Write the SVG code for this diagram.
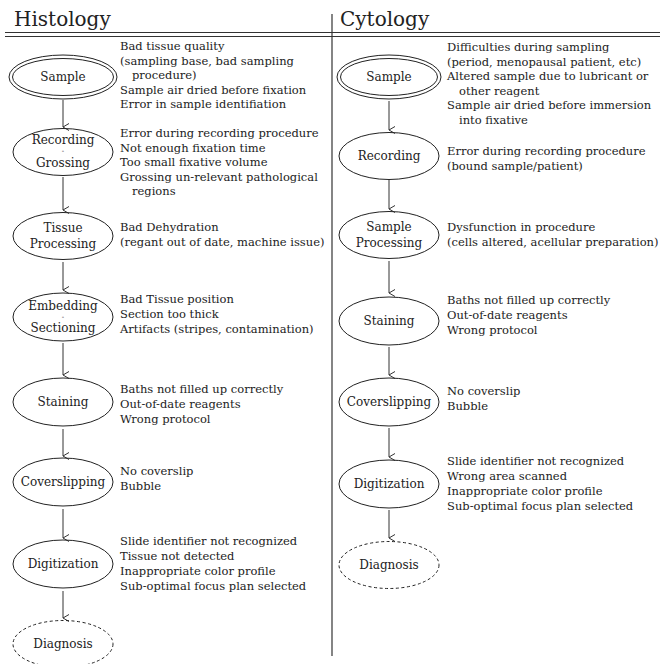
<svg xmlns="http://www.w3.org/2000/svg" width="669" height="664" viewBox="0 0 669 664">
<defs>
<style>
.t{font-family:"DejaVu Serif","Liberation Serif",serif;font-size:11.5px;fill:#222}
.n{font-family:"DejaVu Serif","Liberation Serif",serif;font-size:12px;fill:#222;text-anchor:middle}
.h{font-family:"DejaVu Serif","Liberation Serif",serif;font-size:20px;fill:#222}
.s{font-family:"DejaVu Serif","Liberation Serif",serif;font-size:7px;fill:#222;text-anchor:middle}
.e{fill:none;stroke:#222;stroke-width:1}
.d{fill:none;stroke:#222;stroke-width:1;stroke-dasharray:3,2.5}
.a{stroke:#333;stroke-width:1;fill:none}
.rule{stroke:#333;stroke-width:1.2}
</style>
<marker id="arr" markerWidth="10" markerHeight="10" refX="4" refY="8" orient="auto-start-reverse" markerUnits="userSpaceOnUse" viewBox="0 0 8 10">
<path d="M0.5,2 L4,8 L7.5,2" fill="none" stroke="#333" stroke-width="1"/>
</marker>
</defs>
<rect width="669" height="664" fill="#fff"/>
<g id="frame">
<text class="h" x="14" y="26">Histology</text>
<text class="h" x="340" y="26">Cytology</text>
<line class="rule" x1="5" y1="32.5" x2="660" y2="32.5"/>
<line class="rule" x1="5" y1="36.5" x2="660" y2="36.5"/>
<line class="rule" x1="332" y1="14" x2="332" y2="656"/>
</g>
<g id="connectors">
<line class="a" x1="63" y1="100" x2="63" y2="127" marker-end="url(#arr)"/>
<line class="a" x1="63" y1="177" x2="63" y2="210" marker-end="url(#arr)"/>
<line class="a" x1="63" y1="262" x2="63" y2="290" marker-end="url(#arr)"/>
<line class="a" x1="63" y1="343" x2="63" y2="375" marker-end="url(#arr)"/>
<line class="a" x1="63" y1="429" x2="63" y2="456" marker-end="url(#arr)"/>
<line class="a" x1="63" y1="509" x2="63" y2="538" marker-end="url(#arr)"/>
<line class="a" x1="63" y1="591" x2="63" y2="618" marker-end="url(#arr)"/>
<line class="a" x1="389" y1="101" x2="389" y2="130" marker-end="url(#arr)"/>
<line class="a" x1="389" y1="180" x2="389" y2="209" marker-end="url(#arr)"/>
<line class="a" x1="389" y1="261" x2="389" y2="293" marker-end="url(#arr)"/>
<line class="a" x1="389" y1="347" x2="389" y2="375" marker-end="url(#arr)"/>
<line class="a" x1="389" y1="428" x2="389" y2="457" marker-end="url(#arr)"/>
<line class="a" x1="389" y1="510" x2="389" y2="538" marker-end="url(#arr)"/>
</g>
<g id="h-sample">
<ellipse class="e" cx="63" cy="77" rx="54" ry="22"/>
<ellipse class="e" cx="63" cy="77" rx="50.5" ry="18.5"/>
<text class="n" x="63" y="81">Sample</text>
<text class="t"><tspan x="120" y="50">Bad tissue quality</tspan><tspan x="120" y="64.5">(sampling base, bad sampling</tspan><tspan x="132" y="79">procedure)</tspan><tspan x="120" y="93.5">Sample air dried before fixation</tspan><tspan x="120" y="108">Error in sample identifiation</tspan></text>
</g>
<g id="h-recording">
<ellipse class="e" cx="63" cy="152" rx="50" ry="23.5"/>
<text class="n" x="63" y="144">Recording</text>
<text class="s" x="63" y="153">-</text>
<text class="n" x="63" y="166.5">Grossing</text>
<text class="t"><tspan x="120" y="137">Error during recording procedure</tspan><tspan x="120" y="151.5">Not enough fixation time</tspan><tspan x="120" y="166">Too small fixative volume</tspan><tspan x="120" y="180.5">Grossing un-relevant pathological</tspan><tspan x="132" y="195">regions</tspan></text>
</g>
<g id="h-tissue">
<ellipse class="e" cx="63" cy="236" rx="50" ry="23.5"/>
<text class="n"><tspan x="63" y="232">Tissue</tspan><tspan x="63" y="248">Processing</tspan></text>
<text class="t"><tspan x="120" y="231">Bad Dehydration</tspan><tspan x="120" y="246">(regant out of date, machine issue)</tspan></text>
</g>
<g id="h-embedding">
<ellipse class="e" cx="63" cy="317" rx="50" ry="24"/>
<text class="n" x="63" y="309.5">Embedding</text>
<text class="s" x="63" y="318.5">-</text>
<text class="n" x="63" y="332">Sectioning</text>
<text class="t"><tspan x="120" y="303">Bad Tissue position</tspan><tspan x="120" y="318">Section too thick</tspan><tspan x="120" y="333">Artifacts (stripes, contamination)</tspan></text>
</g>
<g id="h-staining">
<ellipse class="e" cx="63" cy="402" rx="50" ry="24"/>
<text class="n" x="63" y="406">Staining</text>
<text class="t"><tspan x="120" y="393">Baths not filled up correctly</tspan><tspan x="120" y="408">Out-of-date reagents</tspan><tspan x="120" y="423">Wrong protocol</tspan></text>
</g>
<g id="h-coverslipping">
<ellipse class="e" cx="63" cy="482" rx="50" ry="24"/>
<text class="n" x="63" y="486">Coverslipping</text>
<text class="t"><tspan x="120" y="475">No coverslip</tspan><tspan x="120" y="490">Bubble</tspan></text>
</g>
<g id="h-digitization">
<ellipse class="e" cx="63" cy="564" rx="50" ry="24"/>
<text class="n" x="63" y="568">Digitization</text>
<text class="t"><tspan x="120" y="545">Slide identifier not recognized</tspan><tspan x="120" y="560">Tissue not detected</tspan><tspan x="120" y="575">Inappropriate color profile</tspan><tspan x="120" y="590">Sub-optimal focus plan selected</tspan></text>
</g>
<g id="h-diagnosis">
<ellipse class="d" cx="63" cy="644" rx="50" ry="23.5"/>
<text class="n" x="63" y="648">Diagnosis</text>
</g>
<g id="c-sample">
<ellipse class="e" cx="389" cy="77" rx="52" ry="22"/>
<ellipse class="e" cx="389" cy="77" rx="48.5" ry="18.5"/>
<text class="n" x="389" y="81">Sample</text>
<text class="t"><tspan x="447" y="51">Difficulties during sampling</tspan><tspan x="447" y="65.5">(period, menopausal patient, etc)</tspan><tspan x="447" y="80">Altered sample due to lubricant or</tspan><tspan x="459" y="94.5">other reagent</tspan><tspan x="447" y="109">Sample air dried before immersion</tspan><tspan x="459" y="123.5">into fixative</tspan></text>
</g>
<g id="c-recording">
<ellipse class="e" cx="389" cy="156" rx="50" ry="23.5"/>
<text class="n" x="389" y="160">Recording</text>
<text class="t"><tspan x="447" y="155">Error during recording procedure</tspan><tspan x="447" y="170">(bound sample/patient)</tspan></text>
</g>
<g id="c-processing">
<ellipse class="e" cx="389" cy="235" rx="50" ry="23.5"/>
<text class="n"><tspan x="389" y="231">Sample</tspan><tspan x="389" y="247">Processing</tspan></text>
<text class="t"><tspan x="447" y="231">Dysfunction in procedure</tspan><tspan x="447" y="246">(cells altered, acellular preparation)</tspan></text>
</g>
<g id="c-staining">
<ellipse class="e" cx="389" cy="321" rx="50" ry="24"/>
<text class="n" x="389" y="325">Staining</text>
<text class="t"><tspan x="447" y="304">Baths not filled up correctly</tspan><tspan x="447" y="319">Out-of-date reagents</tspan><tspan x="447" y="334">Wrong protocol</tspan></text>
</g>
<g id="c-coverslipping">
<ellipse class="e" cx="389" cy="402" rx="50" ry="24"/>
<text class="n" x="389" y="406">Coverslipping</text>
<text class="t"><tspan x="447" y="395">No coverslip</tspan><tspan x="447" y="410">Bubble</tspan></text>
</g>
<g id="c-digitization">
<ellipse class="e" cx="389" cy="484" rx="50" ry="24"/>
<text class="n" x="389" y="488">Digitization</text>
<text class="t"><tspan x="447" y="465">Slide identifier not recognized</tspan><tspan x="447" y="480">Wrong area scanned</tspan><tspan x="447" y="495">Inappropriate color profile</tspan><tspan x="447" y="510">Sub-optimal focus plan selected</tspan></text>
</g>
<g id="c-diagnosis">
<ellipse class="d" cx="389" cy="565" rx="50" ry="23.5"/>
<text class="n" x="389" y="569">Diagnosis</text>
</g>
</svg>
